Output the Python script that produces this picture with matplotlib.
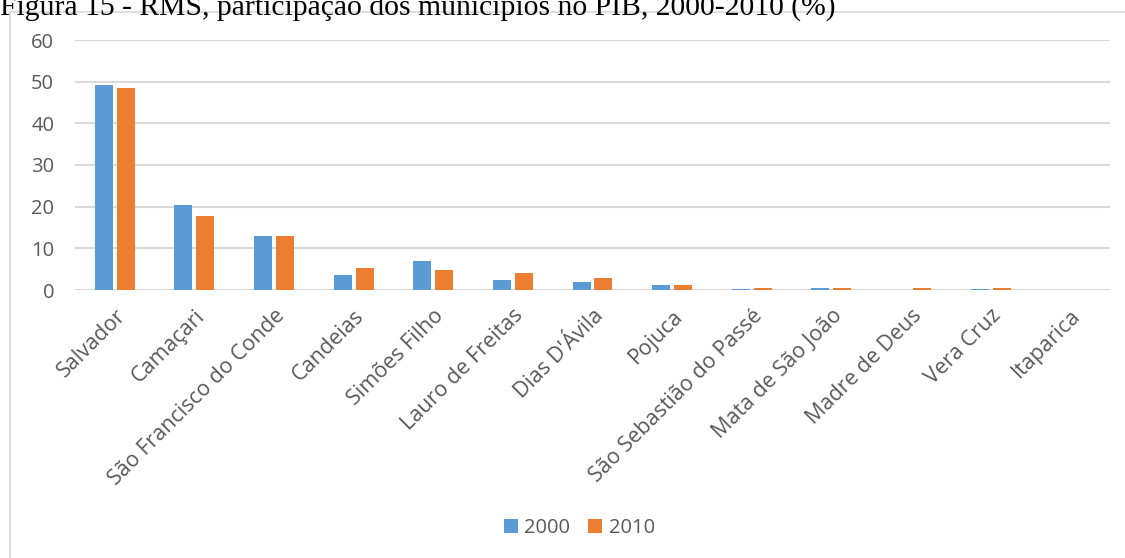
import matplotlib
matplotlib.use("Agg")
import matplotlib.pyplot as plt
from matplotlib.patches import Rectangle
import numpy as np

categories = ["Salvador", "Camaçari", "São Francisco do Conde", "Candeias", "Simões Filho",
              "Lauro de Freitas", "Dias D'Ávila", "Pojuca", "São Sebastião do Passé",
              "Mata de São João", "Madre de Deus", "Vera Cruz", "Itaparica"]
v2000 = [49.2, 20.4, 13.0, 3.5, 6.9, 2.5, 2.0, 1.1, 0.3, 0.6, 0.05, 0.3, 0.05]
v2010 = [48.5, 17.7, 13.0, 5.4, 4.9, 4.2, 2.8, 1.3, 0.6, 0.5, 0.4, 0.4, 0.05]
series_labels = ["2000", "2010"]
yticks = [0, 10, 20, 30, 40, 50, 60]
title = "Figura 15 - RMS, participação dos municípios no PIB, 2000-2010 (%)"

W, H = 1125, 558
fig = plt.figure(figsize=(W / 100, H / 100), dpi=100)
fig.patch.set_facecolor("white")

# outer chart frame (extends beyond right/bottom edges)
fig.patches.append(Rectangle((10 / W, -0.1), 1.2, 1 - 12 / H + 0.1, transform=fig.transFigure,
                             fill=False, edgecolor="#D9D9D9", lw=1.2, zorder=0))

fig.text(0, 1 - 15 / H, title, family="Liberation Serif", fontsize=21.3, ha="left",
         va="baseline", color="black")

ax = fig.add_axes([75 / W, 1 - 290 / H, 1035 / W, 250 / H])
x = np.arange(len(categories))
bw = 0.226
off = 0.138
blue, orange = "#5B9BD5", "#ED7D31"
ax.bar(x - off, v2000, bw, color=blue, label=series_labels[0], zorder=3)
ax.bar(x + off, v2010, bw, color=orange, label=series_labels[1], zorder=3)

ax.set_xlim(-0.5, len(categories) - 0.5)
ax.set_ylim(0, 60)
ax.set_yticks(yticks)
ax.yaxis.grid(True, color="#D9D9D9", lw=1.5, zorder=0)
ax.set_axisbelow(True)
for s in ax.spines.values():
    s.set_visible(False)
ax.tick_params(axis="both", length=0, labelcolor="#595959")
ax.tick_params(axis="y", pad=15, labelsize=14.5)
ax.set_xticks(x)
ax.set_xticklabels(categories, rotation=45, ha="right", va="top", rotation_mode="anchor",
                   family="Open Sans", fontsize=15.5, color="#595959")
for lab in ax.get_yticklabels():
    lab.set_family("Open Sans")
ax.tick_params(axis="x", pad=11)

leg = fig.legend(loc="center", bbox_to_anchor=(0.515, 1 - 528 / H), ncol=2, frameon=False,
                 prop={"family": "Open Sans", "size": 14.5}, handlelength=0.7, handleheight=0.7,
                 handletextpad=0.3, columnspacing=0.9)
for t in leg.get_texts():
    t.set_color("#595959")

fig.savefig("out.png", dpi=100)
